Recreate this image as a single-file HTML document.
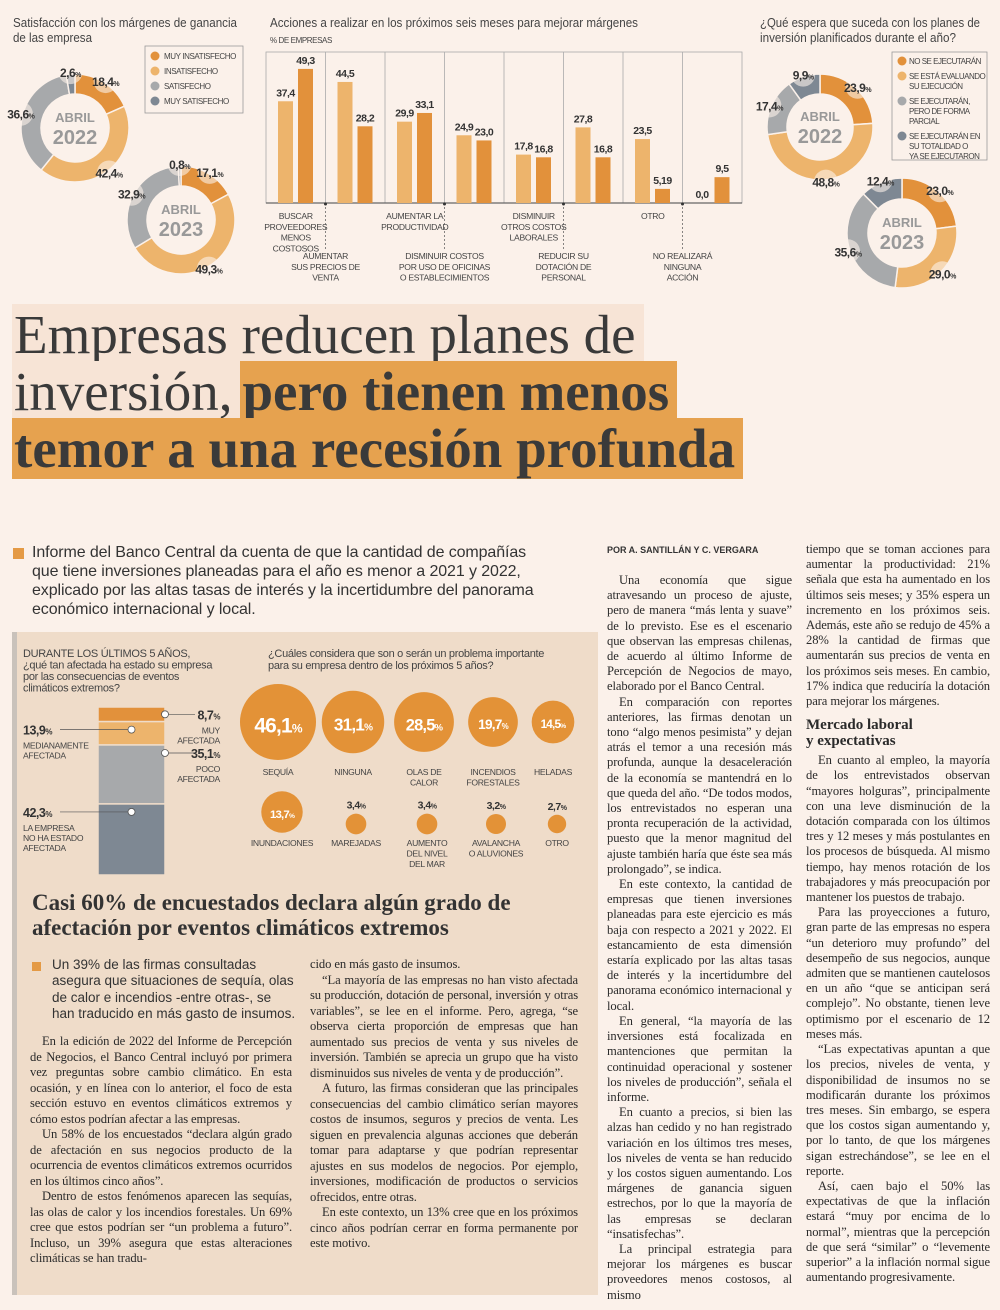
<!DOCTYPE html>
<html lang="es"><head><meta charset="utf-8">
<style>
*{margin:0;padding:0;box-sizing:border-box}
body{width:1000px;height:1310px;background:#fbf1ea;position:relative;overflow:hidden;font-family:"Liberation Sans",sans-serif;color:#333}
.abs{position:absolute}
.ttl{font-family:"Liberation Serif",serif;font-size:55px;line-height:57px;color:#3a3a3a;left:12px;top:306px;width:990px;white-space:nowrap}
.ttl span{padding:0 8px 0 2px}
.hl1{background:#f7e4d6}
.hl2{background:#e6a24f;font-weight:bold}
.lede{left:32px;top:543px;width:580px;font-size:16px;line-height:19px;color:#333;white-space:nowrap;letter-spacing:-0.1px}
.col{font-family:"Liberation Serif",serif;font-size:12.6px;line-height:15.5px;color:#2a2a2a;text-align:justify;hyphens:auto;-webkit-hyphens:auto;letter-spacing:-0.1px}
.col.article{line-height:15.2px}
.col p{text-indent:12px}
.col p.ni{text-indent:0}
h3{font-family:"Liberation Serif",serif;font-size:15px;line-height:16px;margin:8px 0 4px;letter-spacing:0}
.box{left:12px;top:632px;width:586px;height:663px;background:#efdcc9;border-left:5px solid #c9c2bb}
</style></head><body>
<svg id="topsvg" class="abs" style="left:0;top:0" width="1000" height="290"></svg>

<div class="ttl abs"><span class="hl1">Empresas reducen planes de</span><br><span class="hl1">inversión,</span><span class="hl2">pero tienen menos</span><br><span class="hl2">temor a una recesión profunda</span></div>

<div class="abs" style="left:13px;top:548px;width:11px;height:11px;background:#e49a45"></div>
<div class="lede abs">Informe del Banco Central da cuenta de que la cantidad de compañías<br>que tiene inversiones planeadas para el año es menor a 2021 y 2022,<br>explicado por las altas tasas de interés y la incertidumbre del panorama<br>económico internacional y local.</div>

<div class="box abs"></div>
<svg id="clim" class="abs" style="left:0;top:632px" width="600" height="260"></svg>
<div class="abs" style="left:32px;top:890px;width:560px;font-family:'Liberation Serif',serif;font-weight:bold;font-size:23px;line-height:25px;color:#333">Casi 60% de encuestados declara algún grado de afectación por eventos climáticos extremos</div>
<div class="abs" style="left:32px;top:962px;width:9px;height:9px;background:#e49a45"></div>
<div class="abs" style="left:52px;top:957px;width:250px;font-size:13.5px;line-height:16.3px;color:#333;white-space:nowrap">Un 39% de las firmas consultadas<br>asegura que situaciones de sequía, olas<br>de calor e incendios -entre otras-, se<br>han traducido en más gasto de insumos.</div>
<div class="col abs" style="left:30px;top:1034px;width:262px">
<p>En la edición de 2022 del Informe de Percepción de Negocios, el Banco Central incluyó por primera vez preguntas sobre cambio climático. En esta ocasión, y en línea con lo anterior, el foco de esta sección estuvo en eventos climáticos extremos y cómo estos podrían afectar a las empresas.</p>
<p>Un 58% de los encuestados “declara algún grado de afectación en sus negocios producto de la ocurrencia de eventos climáticos extremos ocurridos en los últimos cinco años”.</p>
<p>Dentro de estos fenómenos aparecen las sequías, las olas de calor y los incendios forestales. Un 69% cree que estos podrían ser “un problema a futuro”. Incluso, un 39% asegura que estas alteraciones climáticas se han tradu-</p></div>
<div class="col abs" style="left:310px;top:957px;width:268px">
<p class="ni">cido en más gasto de insumos.</p>
<p>“La mayoría de las empresas no han visto afectada su producción, dotación de personal, inversión y otras variables”, se lee en el informe. Pero, agrega, “se observa cierta proporción de empresas que han aumentado sus precios de venta y sus niveles de inversión. También se aprecia un grupo que ha visto disminuidos sus niveles de venta y de producción”.</p>
<p>A futuro, las firmas consideran que las principales consecuencias del cambio climático serían mayores costos de insumos, seguros y precios de venta. Les siguen en prevalencia algunas acciones que deberán tomar para adaptarse y que podrían representar ajustes en sus modelos de negocios. Por ejemplo, inversiones, modificación de productos o servicios ofrecidos, entre otras.</p>
<p>En este contexto, un 13% cree que en los próximos cinco años podrían cerrar en forma permanente por este motivo.</p></div>

<div class="abs" style="left:607px;top:545px;font-size:9px;font-weight:bold;color:#333">POR A. SANTILLÁN Y C. VERGARA</div>
<div class="col article abs" style="left:607px;top:573px;width:185px">
<p>Una economía que sigue atravesando un proceso de ajuste, pero de manera “más lenta y suave” de lo previsto. Ese es el escenario que observan las empresas chilenas, de acuerdo al último Informe de Percepción de Negocios de mayo, elaborado por el Banco Central.</p>
<p>En comparación con reportes anteriores, las firmas denotan un tono “algo menos pesimista” y dejan atrás el temor a una recesión más profunda, aunque la desaceleración de la economía se mantendrá en lo que queda del año. “De todos modos, los entrevistados no esperan una pronta recuperación de la actividad, puesto que la menor magnitud del ajuste también haría que éste sea más prolongado”, se indica.</p>
<p>En este contexto, la cantidad de empresas que tienen inversiones planeadas para este ejercicio es más baja con respecto a 2021 y 2022. El estancamiento de esta dimensión estaría explicado por las altas tasas de interés y la incertidumbre del panorama económico internacional y local.</p>
<p>En general, “la mayoría de las inversiones está focalizada en mantenciones que permitan la continuidad operacional y sostener los niveles de producción”, señala el informe.</p>
<p>En cuanto a precios, si bien las alzas han cedido y no han registrado variación en los últimos tres meses, los niveles de venta se han reducido y los costos siguen aumentando. Los márgenes de ganancia siguen estrechos, por lo que la mayoría de las empresas se declaran “insatisfechas”.</p>
<p>La principal estrategia para mejorar los márgenes es buscar proveedores menos costosos, al mismo</p></div>
<div class="col article abs" style="left:806px;top:542px;width:184px">
<p class="ni">tiempo que se toman acciones para aumentar la productividad: 21% señala que esta ha aumentado en los últimos seis meses; y 35% espera un incremento en los próximos seis. Además, este año se redujo de 45% a 28% la cantidad de firmas que aumentarán sus precios de venta en los próximos seis meses. En cambio, 17% indica que reduciría la dotación para mejorar los márgenes.</p>
<h3>Mercado laboral<br>y expectativas</h3>
<p>En cuanto al empleo, la mayoría de los entrevistados observan “mayores holguras”, principalmente con una leve disminución de la dotación comparada con los últimos tres y 12 meses y más postulantes en los procesos de búsqueda. Al mismo tiempo, hay menos rotación de los trabajadores y más preocupación por mantener los puestos de trabajo.</p>
<p>Para las proyecciones a futuro, gran parte de las empresas no espera “un deterioro muy profundo” del desempeño de sus negocios, aunque admiten que se mantienen cautelosos en un año “que se anticipan será complejo”. No obstante, tienen leve optimismo por el escenario de 12 meses más.</p>
<p>“Las expectativas apuntan a que los precios, niveles de venta, y disponibilidad de insumos no se modificarán durante los próximos tres meses. Sin embargo, se espera que los costos sigan aumentando y, por lo tanto, de que los márgenes sigan estrechándose”, se lee en el reporte.</p>
<p>Así, caen bajo el 50% las expectativas de que la inflación estará “muy por encima de lo normal”, mientras que la percepción de que será “similar” o “levemente superior” a la inflación normal sigue aumentando progresivamente.</p></div>

<script>
const NS="http://www.w3.org/2000/svg";
const NARROW='"Liberation Sans Narrow","Liberation Sans",sans-serif';
const C_DO="#e2913b",C_LO="#edb46c",C_G="#a7a9ab",C_DG="#7e8893";
// ---- data ----
const satisfLabels=["MUY INSATISFECHO","INSATISFECHO","SATISFECHO","MUY SATISFECHO"];
const satisf2022=[18.4,42.4,36.6,2.6];
const satisf2023=[17.1,49.3,32.9,0.8];
const invLabels=["NO SE EJECUTARÁN","SE ESTÁ EVALUANDO|SU EJECUCIÓN","SE EJECUTARÁN,|PERO DE FORMA|PARCIAL","SE EJECUTARÁN EN|SU TOTALIDAD O|YA SE EJECUTARON"];
const inv2022=[23.9,48.8,17.4,9.9];
const inv2023=[23.0,29.0,35.6,12.4];
const actCats=["BUSCAR|PROVEEDORES|MENOS|COSTOSOS","AUMENTAR|SUS PRECIOS DE|VENTA","AUMENTAR LA|PRODUCTIVIDAD","DISMINUIR COSTOS|POR USO DE OFICINAS|O ESTABLECIMIENTOS","DISMINUIR|OTROS COSTOS|LABORALES","REDUCIR SU|DOTACIÓN DE|PERSONAL","OTRO","NO REALIZARÁ|NINGUNA|ACCIÓN"];
const act2022=[37.4,44.5,29.9,24.9,17.8,27.8,23.5,0.0];
const act2023=[49.3,28.2,33.1,23.0,16.8,16.8,5.19,9.5];
const act2022Txt=["37,4","44,5","29,9","24,9","17,8","27,8","23,5","0,0"];
const act2023Txt=["49,3","28,2","33,1","23,0","16,8","16,8","5,19","9,5"];
const affLabels=["MUY|AFECTADA","MEDIANAMENTE|AFECTADA","POCO|AFECTADA","LA EMPRESA|NO HA ESTADO|AFECTADA"];
const affValues=[8.7,13.9,35.1,42.3];
const probCats=["SEQUÍA","NINGUNA","OLAS DE|CALOR","INCENDIOS|FORESTALES","HELADAS","INUNDACIONES","MAREJADAS","AUMENTO|DEL NIVEL|DEL MAR","AVALANCHA|O ALUVIONES","OTRO"];
const probValues=[46.1,31.1,28.5,19.7,14.5,13.7,3.4,3.4,3.2,2.7];

function el(p,tag,attrs,txt){const e=document.createElementNS(NS,tag);for(const k in attrs)e.setAttribute(k,attrs[k]);if(txt!==undefined)e.textContent=txt;p.appendChild(e);return e;}
function fmt(v){return v.toFixed(1).replace('.',',');}
function multi(p,x,y,str,size,anchor,lh,fill,fam){const t=el(p,'text',{x:x,y:y,'font-size':size,'text-anchor':anchor||'middle',fill:fill||'#444','font-family':fam||NARROW,'letter-spacing':-0.3});str.split('|').forEach((s,i)=>{el(t,'tspan',{x:x,dy:i?lh:0},s);});return t;}
function title(p,x,y,s,w){el(p,'text',{x:x,y:y,'font-size':13,fill:'#444','font-family':NARROW,textLength:w,lengthAdjust:'spacingAndGlyphs'},s);}

function donut(svg,cx,cy,r0,r1,vals,cols,year,name){
  const g=el(svg,'g',{});
  
  
  const tot=vals.reduce((a,b)=>a+b,0);let a=-Math.PI/2;
  const labs=[];
  vals.forEach((v,i)=>{const a2=a+v/tot*2*Math.PI;const lg=a2-a>Math.PI?1:0;
    const p=`M${cx+r1*Math.cos(a)},${cy+r1*Math.sin(a)}A${r1},${r1} 0 ${lg} 1 ${cx+r1*Math.cos(a2)},${cy+r1*Math.sin(a2)}L${cx+r0*Math.cos(a2)},${cy+r0*Math.sin(a2)}A${r0},${r0} 0 ${lg} 0 ${cx+r0*Math.cos(a)},${cy+r0*Math.sin(a)}Z`;
    const s=el(g,'path',{d:p,fill:cols[i],stroke:'#fbf1ea','stroke-width':1.5});
    
    
    labs.push([(a+a2)/2,v]);
    a=a2;});
  el(g,'circle',{cx:cx,cy:cy,r:r0,fill:'#fbf1ea'});
  labs.forEach(([m,v])=>{const lx=cx+(r1+2)*Math.cos(m),ly=cy+(r1+2)*Math.sin(m);
    el(g,'circle',{cx:lx,cy:ly,r:12,fill:'#fbf1ea',opacity:0.6});
    const t=el(g,'text',{x:lx,y:ly+5,'text-anchor':'middle','font-size':12,'font-weight':'bold',fill:'#333','font-family':NARROW,'letter-spacing':-0.5},fmt(v));
    el(t,'tspan',{'font-size':7},'%');});
  el(g,'text',{x:cx,y:cy-6,'text-anchor':'middle','font-size':13,'font-weight':'bold',fill:'#999','font-family':NARROW},'ABRIL');
  el(g,'text',{x:cx,y:cy+16,'text-anchor':'middle','font-size':20,'font-weight':'bold',fill:'#999','font-family':NARROW},year);
}
const topSvg=document.getElementById('topsvg');
const cols4=[C_DO,C_LO,C_G,C_DG];
title(topSvg,13,27,'Satisfacción con los márgenes de ganancia',224);
title(topSvg,13,42,'de las empresa',79);
donut(topSvg,75,128,34,54,satisf2022,cols4,'2022','donut-satisfaction-2022');
donut(topSvg,181,220,34,54,satisf2023,cols4,'2023','donut-satisfaction-2023');
el(topSvg,'rect',{x:145,y:46,width:98,height:67,fill:'none',stroke:'#999','stroke-width':0.8});
satisfLabels.forEach((l,i)=>{el(topSvg,'circle',{cx:155,cy:56+i*15,r:4.5,fill:cols4[i]});el(topSvg,'text',{x:164,y:59+i*15,'font-size':8,fill:'#444','font-family':NARROW,'letter-spacing':-0.4},l);});
title(topSvg,760,27,'¿Qué espera que suceda con los planes de',220);
title(topSvg,760,42,'inversión planificados durante el año?',196);
donut(topSvg,820,127,33,53,inv2022,cols4,'2022','donut-investment-2022');
donut(topSvg,902,233,34,55,inv2023,cols4,'2023','donut-investment-2023');
el(topSvg,'rect',{x:892,y:52,width:95,height:108,fill:'none',stroke:'#999','stroke-width':0.8});
let lgy=61;invLabels.forEach((l,i)=>{el(topSvg,'circle',{cx:902,cy:lgy,r:4.5,fill:cols4[i]});const t=multi(topSvg,909,lgy+3,l,8,'start',10,'#444');t.setAttribute('letter-spacing',-0.5);lgy+=l.split('|').length*10+5;});
title(topSvg,270,27,'Acciones a realizar en los próximos seis meses para mejorar márgenes',368);
el(topSvg,'text',{x:270,y:43,'font-size':8,fill:'#444','font-family':NARROW,'letter-spacing':-0.4},'% DE EMPRESAS');
const bx0=266,bw=59.5,base=203,k=2.72;
const yS=v=>base-v*k;
el(topSvg,'rect',{x:bx0,y:52,width:bw*8,height:base-52,fill:'none',stroke:'#aaa','stroke-width':0.8});
for(let i=1;i<8;i++)el(topSvg,'line',{x1:bx0+i*bw,y1:52,x2:bx0+i*bw,y2:base,stroke:'#aaa','stroke-width':0.8});
el(topSvg,'line',{x1:bx0,y1:base,x2:bx0+8*bw,y2:base,stroke:'#666','stroke-width':1.2});
actCats.forEach((c,i)=>{const gx=bx0+i*bw;
  const b1=el(topSvg,'rect',{x:gx+12,y:yS(act2022[i]),width:15,height:act2022[i]*k,fill:C_LO});
  
  
  const b2=el(topSvg,'rect',{x:gx+32,y:yS(act2023[i]),width:15,height:act2023[i]*k,fill:C_DO});
  
  
  el(topSvg,'text',{x:gx+19.5,y:yS(act2022[i])-5,'text-anchor':'middle','font-size':10.5,'font-weight':'bold',fill:'#333','font-family':NARROW,'letter-spacing':-0.5},act2022Txt[i]);
  el(topSvg,'text',{x:gx+39.5,y:yS(act2023[i])-5,'text-anchor':'middle','font-size':10.5,'font-weight':'bold',fill:'#333','font-family':NARROW,'letter-spacing':-0.5},act2023Txt[i]);
  const cx=gx+bw/2;
  if(i%2==0){multi(topSvg,cx,219,c,8.6,'middle',10.8,'#444');}
  else{el(topSvg,'line',{x1:gx,y1:base,x2:gx,y2:250,stroke:'#555','stroke-width':0.7,'stroke-dasharray':'2,2'});el(topSvg,'circle',{cx:gx,cy:base+1,r:1.5,fill:'#333'});multi(topSvg,gx,259,c,8.6,'middle',10.8,'#444');}
});
const cl=document.getElementById('clim');
multi(cl,23,25,'DURANTE LOS ÚLTIMOS 5 AÑOS,|¿qué tan afectada ha estado su empresa|por las consecuencias de eventos|climáticos extremos?',11,'start',11.5,'#444');
multi(cl,268,25,'¿Cuáles considera que son o serán un problema importante|para su empresa dentro de los próximos 5 años?',11,'start',12,'#444');
const sx=98,sw=67,sTop=75,sH=168;const sc=[C_DO,C_LO,C_G,C_DG];
let sy=sTop;const atot=affValues.reduce((a,b)=>a+b,0);
affValues.forEach((v,i)=>{const h=v/atot*sH;
  const r=el(cl,'rect',{x:sx,y:sy,width:sw,height:h,fill:sc[i],stroke:'#efdcc9','stroke-width':1.5});
  
  
  const my=sy+Math.min(h/2,8);const right=(i%2==0);
  const px=right?sx+sw:sx+sw/2;
  if(right){el(cl,'line',{x1:px,y1:my,x2:px+30,y2:my,stroke:'#555','stroke-width':0.7});
    const t=el(cl,'text',{x:220,y:my+5,'text-anchor':'end','font-size':12.5,'font-weight':'bold',fill:'#333','font-family':NARROW,'letter-spacing':-0.5},fmt(v));el(t,'tspan',{'font-size':8},'%');
    multi(cl,220,my+19,affLabels[i],8.6,'end',10,'#444');}
  else{el(cl,'line',{x1:60,y1:my,x2:px,y2:my,stroke:'#555','stroke-width':0.7});
    const t=el(cl,'text',{x:23,y:my+5,'font-size':12.5,'font-weight':'bold',fill:'#333','font-family':NARROW,'letter-spacing':-0.5},fmt(v));el(t,'tspan',{'font-size':8},'%');
    multi(cl,23,my+19,affLabels[i],8.6,'start',10,'#444');}
  el(cl,'circle',{cx:px,cy:my,r:3.5,fill:'#fff',stroke:'#555','stroke-width':0.8});
  sy+=h;});
const bubX=[278,353,424,493,553,282,356,427,496,557];
probValues.forEach((v,i)=>{const r=5.6*Math.sqrt(v);const row=i<5?0:1;
  const ccy=row==0?90:(r>15?180:192);
  const c=el(cl,'circle',{cx:bubX[i],cy:ccy,r:r,fill:'#e39237'});
  
  
  if(r>15){const t=el(cl,'text',{x:bubX[i],y:ccy+r*0.28,'text-anchor':'middle','font-size':Math.min(r*0.55,21),'font-weight':'bold',fill:'#fff','font-family':NARROW,'letter-spacing':-0.8},fmt(v));el(t,'tspan',{'font-size':Math.min(r*0.32,12)},'%');}
  else{const t=el(cl,'text',{x:bubX[i],y:ccy-r-5,'text-anchor':'middle','font-size':10.5,'font-weight':'bold',fill:'#333','font-family':NARROW,'letter-spacing':-0.5},fmt(v));el(t,'tspan',{'font-size':7},'%');}
  multi(cl,bubX[i],row==0?143:214,probCats[i],8.6,'middle',10.5,'#444');
});
</script>
</body></html>
